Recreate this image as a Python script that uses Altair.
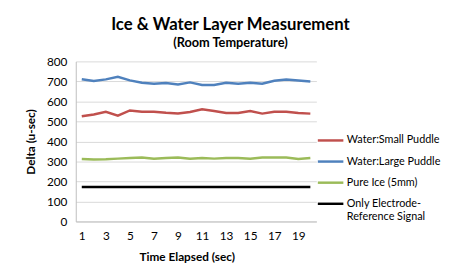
import altair as alt
import pandas as pd

time_sec = list(range(1, 21))
small_puddle = [526, 535, 548, 529, 555, 548, 548, 543, 540, 547, 561, 552, 542, 542, 552, 539, 548, 548, 542, 539]
large_puddle = [711, 702, 710, 723, 705, 693, 688, 692, 685, 695, 682, 682, 693, 688, 693, 688, 703, 710, 705, 700]
pure_ice = [312, 310, 311, 314, 317, 320, 314, 317, 320, 314, 317, 314, 317, 317, 314, 320, 320, 320, 312, 317]
reference = [172] * 20

series_names = ["Water:Small Puddle", "Water:Large Puddle", "Pure Ice (5mm)", "Only Electrode-Reference Signal"]
series_colors = ["#C0504D", "#4F81BD", "#9BBB59", "#000000"]
series_widths = [2.5, 2.5, 2.5, 4.5]
x_labels = [1, 3, 5, 7, 9, 11, 13, 15, 17, 19]
y_ticks = [0, 100, 200, 300, 400, 500, 600, 700, 800]

rows = []
for name, vals in zip(series_names, [small_puddle, large_puddle, pure_ice, reference]):
    for t, v in zip(time_sec, vals):
        rows.append({"t": t, "v": v, "series": name})
df = pd.DataFrame(rows)

FONT = "Lato"

chart = alt.Chart(df).mark_line().encode(
    x=alt.X("t:O", scale=alt.Scale(type="point", padding=0.5),
            axis=alt.Axis(values=x_labels, labelAngle=0, title="Time Elapsed (sec)",
                          ticks=False, grid=False, labelPadding=9, titlePadding=11,
                          titleX=113)),
    y=alt.Y("v:Q", scale=alt.Scale(domain=[0, 800], nice=False),
            axis=alt.Axis(values=y_ticks, title="Delta (u-sec)", ticks=False,
                          labelPadding=9, titlePadding=9)),
    color=alt.Color("series:N", scale=alt.Scale(domain=series_names, range=series_colors),
                    title=None,
                    legend=alt.Legend(orient="none", legendX=245, legendY=66,
                                      symbolType="stroke", symbolSize=676,
                                      labelFontSize=11, rowPadding=1.5,
                                      labelLimit=200, labelOffset=2,
                                      labelExpr="datum.label == 'Only Electrode-Reference Signal' ? ['Only Electrode-', 'Reference Signal'] : datum.label")),
    strokeWidth=alt.StrokeWidth("series:N", scale=alt.Scale(domain=series_names, range=series_widths),
                                title=None, legend=None),
    detail="series:N",
).properties(
    width=245,
    height=163,
    padding={"left": 69, "top": 52, "right": 131, "bottom": 45},
    autosize=alt.AutoSizeParams(type="none"),
    title=alt.TitleParams(text="Ice & Water Layer Measurement", subtitle="(Room Temperature)",
                          fontSize=17, subtitleFontSize=13, fontWeight="bold",
                          subtitleFontWeight="bold", anchor="middle", frame="group", dx=35,
                          offset=5, subtitlePadding=3, color="#000000",
                          subtitleColor="#000000", font=FONT, subtitleFont=FONT),
).configure_view(
    stroke=None
).configure_axis(
    labelFont=FONT, titleFont=FONT, labelFontSize=12, titleFontSize=12,
    labelColor="#000000", titleColor="#000000", gridColor="#D9D9D9",
    domainColor="#BFBFBF", titleFontWeight="bold"
).configure_legend(
    labelFont=FONT, labelColor="#000000"
)

chart.save("out.html", embed_options={"renderer": "svg", "actions": False})
